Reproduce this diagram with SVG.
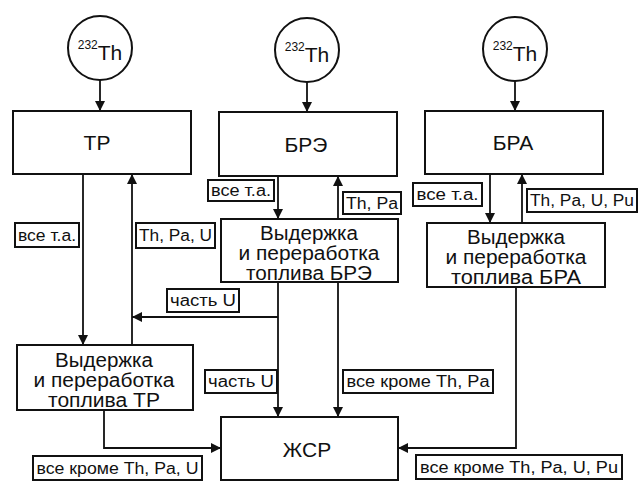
<svg xmlns="http://www.w3.org/2000/svg" width="641" height="482" viewBox="0 0 641 482">
<defs>
<marker id="ah" viewBox="0 0 10 10" refX="10" refY="5" markerWidth="10" markerHeight="10" markerUnits="userSpaceOnUse" orient="auto">
<path d="M0,0 L10,5 L0,10 z" fill="#111"/>
</marker>
</defs>
<style>
.box{fill:#fff;stroke:#111;stroke-width:2}
.lbl{fill:#fff;stroke:#111;stroke-width:2}
.c{fill:none;stroke:#111;stroke-width:1.8;marker-end:url(#ah)}
.t{font-family:"Liberation Sans",Arial,sans-serif;fill:#111;text-anchor:middle}
.big{font-size:21px}
.mid{font-size:20px}
.sm{font-size:16px}
.sup{font-size:12px}
</style>
<rect width="641" height="482" fill="#fff"/>
<g id="connectors">
<line class="c" x1="100" y1="80" x2="100" y2="111"/>
<line class="c" x1="307" y1="82" x2="307" y2="112"/>
<line class="c" x1="515" y1="81" x2="515" y2="111"/>
<line class="c" x1="83" y1="174" x2="83" y2="345"/>
<line class="c" x1="132" y1="345" x2="132" y2="174"/>
<line class="c" x1="278" y1="317" x2="132" y2="317"/>
<polyline class="c" points="104,410 104,448 221,448"/>
<line class="c" x1="278" y1="176" x2="278" y2="219"/>
<line class="c" x1="338" y1="219" x2="338" y2="176"/>
<line class="c" x1="278" y1="282" x2="278" y2="417"/>
<line class="c" x1="338" y1="282" x2="338" y2="417"/>
<line class="c" x1="490" y1="174" x2="490" y2="223"/>
<line class="c" x1="522" y1="223" x2="522" y2="174"/>
<polyline class="c" points="516,287 516,448 398,448"/>
</g>
<g id="th1"><circle class="box" cx="100" cy="48" r="32"/><text class="t" x="100" y="60"><tspan class="sup" dy="-11">232</tspan><tspan class="big" dy="11">Th</tspan></text></g>
<g id="th2"><circle class="box" cx="307" cy="50" r="32"/><text class="t" x="307" y="62"><tspan class="sup" dy="-11">232</tspan><tspan class="big" dy="11">Th</tspan></text></g>
<g id="th3"><circle class="box" cx="515" cy="49" r="32"/><text class="t" x="515" y="61"><tspan class="sup" dy="-11">232</tspan><tspan class="big" dy="11">Th</tspan></text></g>
<g id="tr"><rect class="box" x="13" y="111" width="178" height="63"/><text class="t big" x="97" y="150">ТР</text></g>
<g id="bre"><rect class="box" x="219" y="112" width="178" height="64"/><text class="t big" x="306" y="152">БРЭ</text></g>
<g id="bra"><rect class="box" x="425" y="111" width="178" height="63"/><text class="t big" x="513" y="150">БРА</text></g>
<g id="proc-tr"><rect class="box" x="17" y="345" width="176" height="65"/><text class="t mid" x="104" y="367" textLength="98" lengthAdjust="spacingAndGlyphs">Выдержка</text><text class="t mid" x="104" y="387" textLength="141" lengthAdjust="spacingAndGlyphs">и переработка</text><text class="t mid" x="104" y="407" textLength="112" lengthAdjust="spacingAndGlyphs">топлива ТР</text></g>
<g id="proc-bre"><rect class="box" x="221" y="219" width="177" height="63"/><text class="t mid" x="309" y="240" textLength="98" lengthAdjust="spacingAndGlyphs">Выдержка</text><text class="t mid" x="309" y="260" textLength="141" lengthAdjust="spacingAndGlyphs">и переработка</text><text class="t mid" x="309" y="280" textLength="126" lengthAdjust="spacingAndGlyphs">топлива БРЭ</text></g>
<g id="proc-bra"><rect class="box" x="427" y="223" width="178" height="64"/><text class="t mid" x="516" y="244" textLength="98" lengthAdjust="spacingAndGlyphs">Выдержка</text><text class="t mid" x="516" y="264" textLength="141" lengthAdjust="spacingAndGlyphs">и переработка</text><text class="t mid" x="516" y="284" textLength="130" lengthAdjust="spacingAndGlyphs">топлива БРА</text></g>
<g id="zhsr"><rect class="box" x="221" y="417" width="177" height="63"/><text class="t big" x="307" y="457">ЖСР</text></g>
<g id="labels">
<rect class="lbl" x="15" y="223" width="64" height="24"/><text class="t sm" x="47" y="241" textLength="58" lengthAdjust="spacingAndGlyphs">все т.а.</text>
<rect class="lbl" x="136" y="223" width="79" height="25"/><text class="t sm" x="175.5" y="241" textLength="73" lengthAdjust="spacingAndGlyphs">Th, Pa, U</text>
<rect class="lbl" x="167" y="289" width="72" height="23"/><text class="t sm" x="203" y="306" textLength="66" lengthAdjust="spacingAndGlyphs">часть U</text>
<rect class="lbl" x="33" y="456" width="169" height="24"/><text class="t sm" x="117.5" y="474" textLength="162" lengthAdjust="spacingAndGlyphs">все кроме Th, Pa, U</text>
<rect class="lbl" x="208" y="180" width="66" height="21"/><text class="t sm" x="241" y="196" textLength="60" lengthAdjust="spacingAndGlyphs">все т.а.</text>
<rect class="lbl" x="343" y="192" width="58" height="22"/><text class="t sm" x="372" y="209" textLength="52" lengthAdjust="spacingAndGlyphs">Th, Pa</text>
<rect class="lbl" x="205" y="370" width="72" height="23"/><text class="t sm" x="241" y="387" textLength="66" lengthAdjust="spacingAndGlyphs">часть U</text>
<rect class="lbl" x="343" y="370" width="150" height="23"/><text class="t sm" x="418" y="387" textLength="143" lengthAdjust="spacingAndGlyphs">все кроме Th, Pa</text>
<rect class="lbl" x="413" y="183" width="69" height="23"/><text class="t sm" x="447.5" y="200" textLength="62" lengthAdjust="spacingAndGlyphs">все т.а.</text>
<rect class="lbl" x="527" y="189" width="110" height="23"/><text class="t sm" x="582" y="206" textLength="104" lengthAdjust="spacingAndGlyphs">Th, Pa, U, Pu</text>
<rect class="lbl" x="416" y="455" width="206" height="24"/><text class="t sm" x="519" y="473" textLength="198" lengthAdjust="spacingAndGlyphs">все кроме Th, Pa, U, Pu</text>
</g>
</svg>
